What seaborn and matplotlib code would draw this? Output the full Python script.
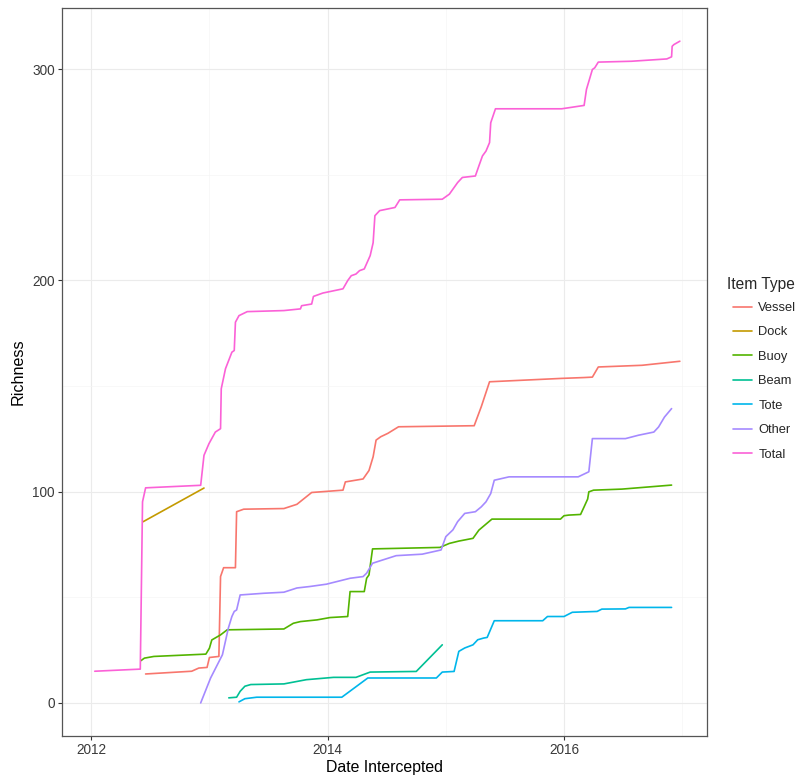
import pandas as pd
import seaborn as sns
import matplotlib.pyplot as plt
from matplotlib.lines import Line2D

# cumulative richness per item type (decimal years)
vessel_yr = [2012.46, 2012.85, 2012.91, 2012.98, 2013.0, 2013.08, 2013.094, 2013.12, 2013.22, 2013.23,
             2013.29, 2013.63, 2013.74, 2013.865, 2014.13, 2014.15, 2014.3, 2014.35, 2014.385, 2014.41,
             2014.45, 2014.51, 2014.6, 2015.24, 2015.3, 2015.37, 2015.98, 2016.17, 2016.24, 2016.29,
             2016.66, 2016.98]
vessel_val = [13.7, 15.0, 16.5, 16.8, 21.5, 22.0, 59.8, 64.0, 64.0, 90.5,
              91.7, 92.0, 94.0, 99.6, 100.7, 104.6, 106.0, 110.0, 116.5, 124.4,
              126.0, 127.6, 130.7, 131.2, 140.2, 152.0, 153.6, 154.0, 154.2, 159.0,
              159.8, 161.7]

dock_yr = [2012.44, 2012.954]
dock_val = [85.8, 101.7]

buoy_yr = [2012.42, 2012.45, 2012.53, 2012.97, 2013.0, 2013.02, 2013.094, 2013.15, 2013.63, 2013.71,
           2013.77, 2013.91, 2014.02, 2014.17, 2014.19, 2014.31, 2014.33, 2014.35, 2014.38, 2014.95,
           2015.03, 2015.11, 2015.23, 2015.28, 2015.39, 2015.97, 2016.0, 2016.04, 2016.14, 2016.17,
           2016.2, 2016.21, 2016.25, 2016.49, 2016.91]
buoy_val = [20.0, 21.2, 22.0, 23.1, 25.9, 29.8, 32.2, 34.6, 35.0, 37.7,
            38.5, 39.3, 40.4, 40.9, 52.7, 52.7, 59.0, 60.6, 72.9, 73.6,
            75.5, 76.6, 77.9, 81.8, 87.0, 87.0, 88.6, 88.9, 89.2, 92.8,
            96.5, 99.9, 100.7, 101.2, 103.1]

beam_yr = [2013.164, 2013.23, 2013.26, 2013.3, 2013.35, 2013.63, 2013.82, 2014.05, 2014.24, 2014.36,
           2014.75, 2014.97]
beam_val = [2.4, 2.7, 5.5, 7.9, 8.7, 9.0, 11.0, 12.1, 12.1, 14.6,
            14.9, 27.5]

tote_yr = [2013.25, 2013.3, 2013.4, 2014.12, 2014.34, 2014.92, 2014.97, 2015.07, 2015.11, 2015.16,
           2015.23, 2015.27, 2015.32, 2015.35, 2015.41, 2015.82, 2015.86, 2016.0, 2016.07, 2016.28,
           2016.32, 2016.52, 2016.55, 2016.91]
tote_val = [0.5, 2.0, 2.7, 2.7, 11.8, 11.8, 14.6, 14.9, 24.4, 26.0,
            27.5, 29.9, 30.7, 31.0, 38.9, 38.9, 40.9, 40.9, 42.9, 43.3,
            44.4, 44.5, 45.2, 45.2]

other_yr = [2012.926, 2013.01, 2013.11, 2013.16, 2013.19, 2013.21, 2013.23, 2013.26, 2013.46, 2013.63,
            2013.74, 2013.85, 2013.99, 2014.19, 2014.3, 2014.33, 2014.38, 2014.44, 2014.58, 2014.8,
            2014.96, 2015.0, 2015.06, 2015.1, 2015.16, 2015.25, 2015.3, 2015.34, 2015.38, 2015.41,
            2015.535, 2016.12, 2016.18, 2016.21, 2016.24, 2016.52, 2016.63, 2016.76, 2016.8, 2016.85,
            2016.91]
other_val = [0.0, 11.8, 22.8, 35.4, 40.9, 43.3, 44.0, 51.1, 51.9, 52.4,
             54.4, 55.1, 56.2, 59.0, 59.8, 61.4, 66.1, 67.2, 69.7, 70.4,
             72.4, 78.7, 81.9, 85.8, 89.7, 90.5, 92.8, 95.2, 99.1, 105.4,
             107.0, 107.0, 108.6, 109.4, 125.1, 125.1, 126.7, 128.2, 130.6, 135.3,
             139.3]

total_yr = [2012.03, 2012.415, 2012.434, 2012.46, 2012.926, 2012.954, 2012.996, 2013.05, 2013.094, 2013.1,
            2013.136, 2013.19, 2013.21, 2013.22, 2013.25, 2013.32, 2013.63, 2013.77, 2013.78, 2013.865,
            2013.88, 2013.96, 2014.13, 2014.17, 2014.2, 2014.24, 2014.27, 2014.31, 2014.36, 2014.385,
            2014.4, 2014.44, 2014.57, 2014.61, 2014.97, 2015.03, 2015.1, 2015.14, 2015.25, 2015.28,
            2015.31, 2015.34, 2015.37, 2015.38, 2015.42, 2015.98, 2016.04, 2016.17, 2016.19, 2016.24,
            2016.26, 2016.29, 2016.57, 2016.87, 2016.91, 2016.915, 2016.93, 2016.98]
total_val = [15.0, 16.0, 95.2, 101.8, 103.0, 117.2, 122.7, 128.2, 129.8, 148.7,
             158.2, 166.0, 166.8, 180.2, 183.3, 185.2, 185.7, 186.5, 188.0, 188.8,
             192.4, 194.0, 196.0, 199.9, 202.2, 203.0, 204.6, 205.4, 211.7, 217.8,
             230.6, 233.0, 234.5, 238.1, 238.4, 240.8, 246.3, 248.7, 249.4, 254.2,
             258.9, 261.2, 265.2, 274.6, 281.2, 281.2, 281.7, 282.8, 290.4, 299.8,
             300.6, 303.3, 303.7, 304.8, 305.8, 310.8, 311.6, 313.2]

item_types = ["Vessel", "Dock", "Buoy", "Beam", "Tote", "Other", "Total"]
colors = ["#F8766D", "#C49A00", "#53B400", "#00C094", "#00B6EB", "#A58AFF", "#FB61D7"]
series = {
    "Vessel": (vessel_yr, vessel_val),
    "Dock": (dock_yr, dock_val),
    "Buoy": (buoy_yr, buoy_val),
    "Beam": (beam_yr, beam_val),
    "Tote": (tote_yr, tote_val),
    "Other": (other_yr, other_val),
    "Total": (total_yr, total_val),
}

df = pd.concat([pd.DataFrame({"year": yr, "richness": val, "Item Type": name})
                for name, (yr, val) in series.items()], ignore_index=True)

sns.set_theme(style="whitegrid")
plt.rcParams["font.family"] = ["Liberation Sans", "DejaVu Sans"]

fig = plt.figure(figsize=(7.98, 7.78), dpi=100)
ax = fig.add_axes([0.0773, 0.054, 0.8087, 0.9357])

sns.lineplot(data=df, x="year", y="richness", hue="Item Type", hue_order=item_types,
             palette=colors, estimator=None, sort=False, linewidth=1.2, legend=False, ax=ax)

ax.set_xlim(2011.75, 2017.21)
ax.set_ylim(-15.65, 328.9)
ax.set_xticks([2012, 2014, 2016])
ax.set_xticklabels(["2012", "2014", "2016"])
ax.set_xticks([2013, 2015, 2017], minor=True)
ax.set_yticks([0, 100, 200, 300])
ax.set_yticks([50, 150, 250], minor=True)

ax.grid(which="major", color="#EBEBEB", linewidth=0.8)
ax.grid(which="minor", color="#F5F5F5", linewidth=0.5)
ax.set_axisbelow(True)
for sp in ax.spines.values():
    sp.set_visible(True)
    sp.set_color("#555555")
    sp.set_linewidth(0.9)

ax.tick_params(which="major", bottom=True, left=True, length=3, width=0.8, color="#333333",
               labelcolor="#3A3A3A", labelsize=9.8, pad=2)
ax.tick_params(which="minor", length=0)

ax.set_xlabel("Date Intercepted", fontsize=11.4, color="black", labelpad=2)
ax.set_ylabel("Richness", fontsize=11.6, color="black", labelpad=5)

# legend title drawn separately so the keys can sit indented under it
fig.text(727 / 798, 1 - 285 / 778, "Item Type", fontsize=11.2, ha="left", va="center")
handles = [Line2D([0], [0], color=c, linewidth=1.2) for c in colors]
ax.legend(handles, item_types, loc="upper left",
          bbox_to_anchor=(733 / 798, 1 - 302 / 778), bbox_transform=fig.transFigure,
          frameon=False, fontsize=9.3, handlelength=1.5,
          handletextpad=0.45, labelspacing=0.96,
          borderaxespad=0, borderpad=0)

fig.savefig("out.png", dpi=100)
